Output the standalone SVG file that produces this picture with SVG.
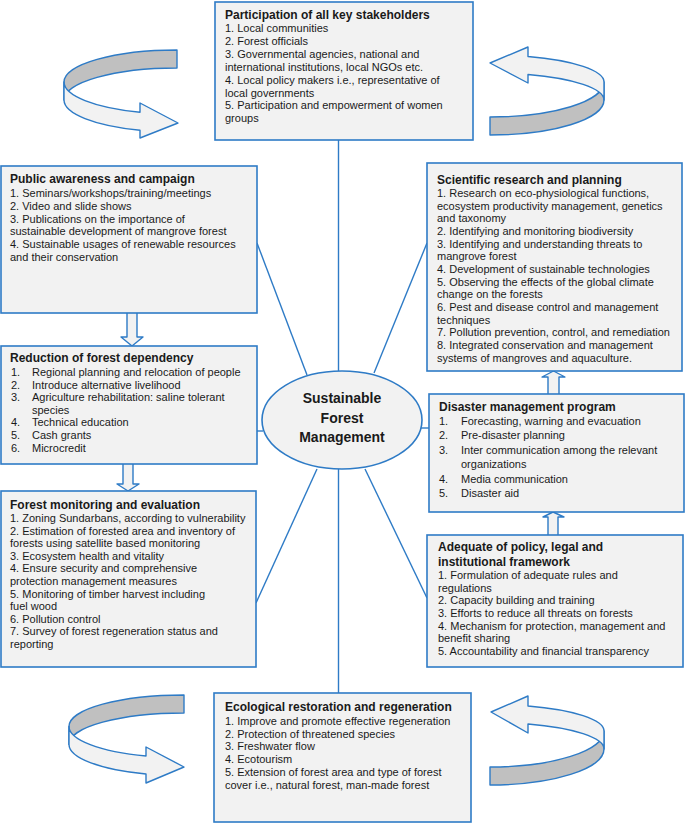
<svg xmlns="http://www.w3.org/2000/svg" width="685" height="823" viewBox="0 0 685 823">
<style>
.box{fill:#f2f2f2;stroke:#2e7bc6;stroke-width:1.6}
.conn{stroke:#2e7bc6;stroke-width:1.4;fill:none}
.band{fill:#f2f2f2;stroke:#2e7bc6;stroke-width:1.4;stroke-linejoin:round}
.back{fill:#c0c0c0;stroke:#2e7bc6;stroke-width:1.4;stroke-linejoin:round}
text{font-family:"Liberation Sans",Arial,sans-serif;font-size:11px;fill:#1a1a1a}
.t{font-weight:bold;font-size:12px}
.c{font-weight:bold;font-size:14px;text-anchor:middle}
</style>
<rect width="685" height="823" fill="#ffffff"/>
<g id="connectors">
<line class="conn" x1="338.5" y1="140" x2="338.5" y2="371"/>
<line class="conn" x1="257" y1="243" x2="307" y2="375"/>
<line class="conn" x1="427" y1="243" x2="374" y2="373"/>
<line class="conn" x1="257" y1="431" x2="263" y2="431"/>
<line class="conn" x1="421" y1="428" x2="429" y2="428"/>
<line class="conn" x1="256" y1="603" x2="317" y2="469"/>
<line class="conn" x1="427" y1="598" x2="365" y2="469"/>
<line class="conn" x1="338.5" y1="469" x2="338.5" y2="693"/>
<path class="band" d="M127,313 L127,337 L121,337 L132,346 L143,337 L137,337 L137,313"/>
<path class="band" d="M123,464 L123,484 L117,484 L128,491 L139,484 L133,484 L133,464"/>
<path class="band" d="M548,394 L548,377 L542,377 L553.5,371 L565,377 L559,377 L559,394"/>
<path class="band" d="M548,535 L548,517 L543,517 L553,512 L564,517 L558,517 L558,535"/>
</g>
<g id="cycle-arrow-top-left">
<path class="back" d="M177,50 A113,32 0 0 0 64,82 L64,100 A113,32 0 0 1 177,68 Z"/>
<path class="band" d="M64,82 A113,32 0 0 0 140,112.2 L140,103 L178,123 L140,138 L140,130.2 A113,32 0 0 1 64,100 Z"/>
</g>
<g id="cycle-arrow-top-right">
<path class="back" d="M604,82 A114,35 0 0 1 490,117 L490,135 A114,35 0 0 0 604,100 Z"/>
<path class="band" d="M528,56.5 A114,27 0 0 1 604,82 L604,100 A114,27 0 0 0 528,74.5 L528,83 L490,63 L528,47 Z"/>
</g>
<g id="cycle-arrow-bottom-left">
<path class="back" d="M184,695 A115,31.4 0 0 0 69,726.4 L69,744.4 A115,31.4 0 0 1 184,713 Z"/>
<path class="band" d="M69,726.4 A115,31.4 0 0 0 146,756 L146,747 L184,767 L146,783 L146,774 A115,31.4 0 0 1 69,744.4 Z"/>
</g>
<g id="cycle-arrow-bottom-right">
<path class="back" d="M604,731 A114,36 0 0 1 490,767 L490,785 A114,36 0 0 0 604,749 Z"/>
<path class="band" d="M528,706 A114,26.5 0 0 1 604,731 L604,749 A114,26.5 0 0 0 528,724 L528,733 L491,712 L528,696 Z"/>
</g>
<g id="node-participation">
<rect class="box" x="215" y="2" width="258" height="138"/>
<text class="t" x="225" y="19.3">Participation of all key stakeholders</text>
<text x="225" y="32.3">1. Local communities</text>
<text x="225" y="45.1">2. Forest officials</text>
<text x="225" y="58">3. Governmental agencies, national and</text>
<text x="225" y="70.9">international institutions, local NGOs etc.</text>
<text x="225" y="83.7">4. Local policy makers i.e., representative of</text>
<text x="225" y="96.6">local governments</text>
<text x="225" y="109.4">5. Participation and empowerment of women</text>
<text x="225" y="122.3">groups</text>
</g>
<g id="node-public-awareness">
<rect class="box" x="1" y="166" width="256" height="147"/>
<text class="t" x="10" y="183.3">Public awareness and campaign</text>
<text x="10" y="197">1. Seminars/workshops/training/meetings</text>
<text x="10" y="209.8">2. Video and slide shows</text>
<text x="10" y="222.6">3. Publications on the importance of</text>
<text x="10" y="235.4">sustainable development of mangrove forest</text>
<text x="10" y="248.2">4. Sustainable usages of renewable resources</text>
<text x="10" y="261">and their conservation</text>
</g>
<g id="node-scientific-research">
<rect class="box" x="427" y="163" width="255" height="208"/>
<text class="t" x="437" y="184.3">Scientific research and planning</text>
<text x="437" y="197">1. Research on eco-physiological functions,</text>
<text x="437" y="209.7">ecosystem productivity management, genetics</text>
<text x="437" y="222.3">and taxonomy</text>
<text x="437" y="235">2. Identifying and monitoring biodiversity</text>
<text x="437" y="247.6">3. Identifying and understanding threats to</text>
<text x="437" y="260.3">mangrove forest</text>
<text x="437" y="272.9">4. Development of sustainable technologies</text>
<text x="437" y="285.6">5. Observing the effects of the global climate</text>
<text x="437" y="298.2">change on the forests</text>
<text x="437" y="310.9">6. Pest and disease control and management</text>
<text x="437" y="323.5">techniques</text>
<text x="437" y="336.2">7. Pollution prevention, control, and remediation</text>
<text x="437" y="348.8">8. Integrated conservation and management</text>
<text x="437" y="361.5">systems of mangroves and aquaculture.</text>
</g>
<g id="node-reduction">
<rect class="box" x="1" y="346" width="256" height="118"/>
<text class="t" x="10" y="362.3">Reduction of forest dependency</text>
<text x="11" y="376">1.</text><text x="32" y="376">Regional planning and relocation of people</text>
<text x="11" y="388.6">2.</text><text x="32" y="388.6">Introduce alternative livelihood</text>
<text x="11" y="401.2">3.</text><text x="32" y="401.2">Agriculture rehabilitation: saline tolerant</text>
<text x="32" y="413.8">species</text>
<text x="11" y="426.4">4.</text><text x="32" y="426.4">Technical education</text>
<text x="11" y="439">5.</text><text x="32" y="439">Cash grants</text>
<text x="11" y="451.6">6.</text><text x="32" y="451.6">Microcredit</text>
</g>
<g id="node-sfm">
<ellipse class="box" cx="342" cy="420" rx="80" ry="49"/>
<text class="c" x="342" y="403">Sustainable</text>
<text class="c" x="342" y="423">Forest</text>
<text class="c" x="342" y="442">Management</text>
</g>
<g id="node-disaster">
<rect class="box" x="429" y="394" width="255" height="118"/>
<text class="t" x="439" y="411.3">Disaster management program</text>
<text x="439" y="425">1.</text><text x="461" y="425">Forecasting, warning and evacuation</text>
<text x="439" y="439.4">2.</text><text x="461" y="439.4">Pre-disaster planning</text>
<text x="439" y="453.8">3.</text><text x="461" y="453.8">Inter communication among the relevant</text>
<text x="461" y="468.2">organizations</text>
<text x="439" y="482.6">4.</text><text x="461" y="482.6">Media communication</text>
<text x="439" y="497">5.</text><text x="461" y="497">Disaster aid</text>
</g>
<g id="node-forest-monitoring">
<rect class="box" x="1" y="491" width="255" height="176"/>
<text class="t" x="10" y="509.3">Forest monitoring and evaluation</text>
<text x="10" y="522">1. Zoning Sundarbans, according to vulnerability</text>
<text x="10" y="534.6">2. Estimation of forested area and inventory of</text>
<text x="10" y="547.2">forests using satellite based monitoring</text>
<text x="10" y="559.8">3. Ecosystem health and vitality</text>
<text x="10" y="572.4">4. Ensure security and comprehensive</text>
<text x="10" y="585">protection management measures</text>
<text x="10" y="597.6">5. Monitoring of timber harvest including</text>
<text x="10" y="610.2">fuel wood</text>
<text x="10" y="622.8">6. Pollution control</text>
<text x="10" y="635.4">7. Survey of forest regeneration status and</text>
<text x="10" y="648">reporting</text>
</g>
<g id="node-policy">
<rect class="box" x="427" y="535" width="256" height="132"/>
<text class="t" x="438" y="551.3">Adequate of policy, legal and</text>
<text class="t" x="438" y="566">institutional framework</text>
<text x="438" y="579">1. Formulation of adequate rules and</text>
<text x="438" y="591.7">regulations</text>
<text x="438" y="604.3">2. Capacity building and training</text>
<text x="438" y="617">3. Efforts to reduce all threats on forests</text>
<text x="438" y="629.7">4. Mechanism for protection, management and</text>
<text x="438" y="642.3">benefit sharing</text>
<text x="438" y="655">5. Accountability and financial transparency</text>
</g>
<g id="node-ecological">
<rect class="box" x="214" y="693" width="257" height="129"/>
<text class="t" x="225" y="711.3">Ecological restoration and regeneration</text>
<text x="225" y="725">1. Improve and promote effective regeneration</text>
<text x="225" y="737.7">2. Protection of threatened species</text>
<text x="225" y="750.4">3. Freshwater flow</text>
<text x="225" y="763.1">4. Ecotourism</text>
<text x="225" y="775.8">5. Extension of forest area and type of forest</text>
<text x="225" y="788.5">cover i.e., natural forest, man-made forest</text>
</g>
</svg>
